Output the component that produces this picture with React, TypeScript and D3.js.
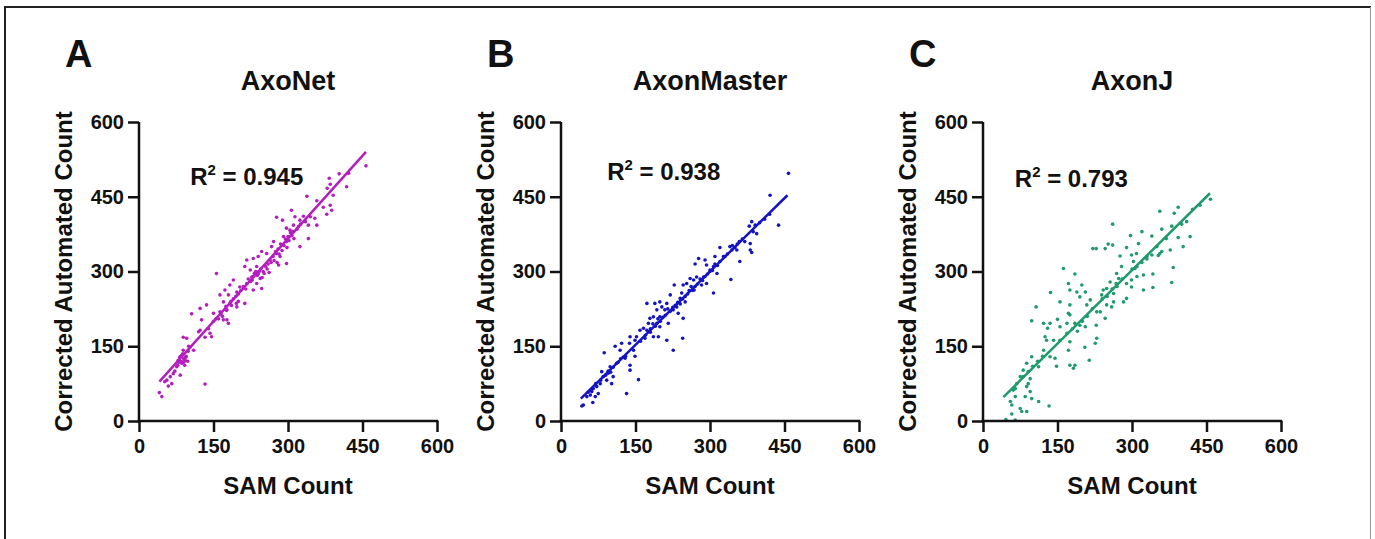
import React, { useEffect, useRef } from "react";
import * as d3 from "d3";

// ---------- data ----------
const panelLetters = ["A", "B", "C"];
const panelTitles = ["AxoNet", "AxonMaster", "AxonJ"];
const r2Values = ["0.945", "0.938", "0.793"];
const r2Anchor: [number, number][] = [[103, 474], [93, 484], [64, 470]];
const axisTicks = [0, 150, 300, 450, 600];
const xLabel = "SAM Count";
const yLabel = "Corrected Automated Count";

const axoNetPoints: [number, number][] = [
  [457, 512], [422, 497], [403, 496], [418, 470], [383, 487], [385, 475], [379, 467], [391, 453],
  [338, 451], [358, 442], [371, 429], [385, 433], [388, 423], [378, 415], [354, 407], [358, 393],
  [341, 393], [341, 366], [324, 350], [307, 423], [314, 410], [324, 403], [331, 411], [321, 390],
  [311, 393], [304, 383], [297, 387], [291, 370], [277, 409], [289, 403], [297, 360], [297, 316],
  [281, 313], [271, 360], [267, 350], [264, 323], [277, 336], [284, 330], [257, 336], [247, 340],
  [240, 330], [237, 310], [230, 326], [217, 323], [213, 310], [224, 303], [227, 289], [244, 286],
  [247, 266], [237, 276], [230, 263], [217, 276], [203, 269], [197, 259], [190, 283], [183, 273],
  [173, 263], [180, 253], [163, 253], [156, 296], [170, 239], [183, 236], [197, 229], [213, 236],
  [177, 223], [163, 219], [150, 216], [177, 203], [180, 196], [170, 203], [136, 233], [123, 226],
  [106, 215], [126, 203], [123, 182], [120, 179], [143, 176], [146, 169], [133, 168], [96, 166],
  [89, 168], [103, 149], [110, 142], [89, 142], [83, 129], [93, 122], [86, 116], [79, 122],
  [76, 109], [69, 95], [83, 92], [63, 89], [56, 82], [66, 75], [59, 70], [52, 79], [41, 57],
  [46, 49], [133, 74],
  [82, 128], [88, 135], [95, 130], [99, 140], [85, 120], [90, 118], [78, 112], [72, 100], [92, 112],
  [100, 150], [190, 245], [200, 255], [205, 262], [210, 270], [215, 265], [220, 285], [225, 280],
  [230, 290], [235, 300], [240, 295], [245, 305], [250, 300], [255, 310], [260, 315], [200, 240],
  [195, 250], [185, 240], [175, 230], [165, 215], [155, 205], [150, 200], [140, 185], [270, 330],
  [275, 340], [280, 345], [285, 355], [295, 365], [300, 370], [305, 378], [310, 380], [318, 385],
  [325, 395], [335, 400], [345, 410],
  [228, 283], [232, 296], [238, 292], [242, 300], [248, 288], [252, 296], [258, 305], [262, 298],
  [266, 318], [272, 322], [278, 318], [282, 335], [288, 342], [292, 352], [298, 348], [302, 362],
  [308, 372], [312, 366], [160, 205], [168, 210], [176, 222], [186, 232], [196, 236],
  [90, 125], [94, 128], [86, 132], [80, 118], [98, 120],
];

const axonMasterPoints: [number, number][] = [
  [458, 497], [421, 453], [438, 393], [384, 400], [391, 393], [379, 391], [387, 380], [394, 376],
  [381, 356], [381, 343], [384, 338], [359, 360], [360, 320], [340, 350], [344, 343], [354, 343],
  [320, 348], [327, 330], [342, 284], [310, 330], [307, 310], [314, 296], [307, 257], [300, 303],
  [293, 313], [290, 323], [277, 326], [270, 315], [273, 289], [267, 283], [287, 289], [293, 276],
  [283, 273], [268, 263], [260, 286], [253, 276], [246, 273], [243, 257], [240, 246], [250, 239],
  [246, 206], [245, 166], [233, 229], [236, 216], [226, 223], [228, 273], [220, 253], [213, 236],
  [216, 196], [209, 223], [199, 239], [203, 229], [199, 209], [193, 223], [193, 196], [189, 236],
  [186, 209], [179, 206], [176, 196], [173, 236], [173, 182], [169, 166], [186, 169], [196, 169],
  [213, 162], [226, 142], [199, 189], [166, 186], [159, 182], [152, 169], [149, 162], [139, 169],
  [138, 156], [146, 142], [149, 130], [139, 112], [139, 102], [156, 83], [122, 156], [109, 150],
  [87, 137], [119, 142], [129, 126], [112, 116], [99, 109], [95, 96], [105, 89], [102, 75],
  [92, 82], [82, 99], [85, 89], [79, 75], [72, 69], [65, 65], [62, 59], [75, 55], [69, 49],
  [59, 52], [52, 49], [64, 37], [45, 32], [42, 30], [132, 55],
  [160, 160], [170, 172], [180, 178], [190, 190], [200, 200], [210, 212], [220, 220], [230, 232],
  [245, 245], [255, 255], [265, 262], [275, 275], [285, 282], [295, 295], [305, 302], [315, 312],
  [330, 330], [350, 348], [365, 365], [400, 398], [410, 405], [420, 415], [95, 100], [105, 108],
  [115, 118], [70, 75], [80, 82], [60, 62], [55, 58], [130, 130],
  [180, 185], [185, 195], [195, 205], [205, 208], [215, 225], [225, 228], [235, 238], [240, 235],
  [250, 250], [258, 262], [262, 270], [270, 270], [280, 285], [290, 290], [300, 300], [310, 315],
  [320, 320], [335, 335], [345, 352], [355, 355], [370, 360], [120, 125], [125, 128], [90, 92],
  [100, 98],
];

const axonJPoints: [number, number][] = [
  [458, 445], [437, 433], [422, 425], [393, 429], [385, 417], [356, 421], [380, 391], [360, 385],
  [340, 371], [320, 380], [297, 372], [261, 395], [252, 355], [261, 353], [228, 346], [221, 346],
  [246, 346], [417, 370], [393, 368], [403, 350], [377, 343], [369, 366], [356, 336], [353, 332],
  [340, 333], [330, 330], [313, 356], [309, 336], [299, 333], [289, 348], [276, 331], [269, 296],
  [279, 310], [303, 320], [306, 306], [310, 290], [323, 293], [342, 295], [383, 308], [380, 278],
  [299, 283], [299, 269], [323, 263], [342, 268], [289, 276], [273, 286], [268, 276], [256, 279],
  [249, 266], [242, 263], [239, 253], [263, 256], [263, 239], [259, 229], [283, 239], [289, 246],
  [249, 233], [236, 219], [246, 206], [229, 219], [228, 192], [209, 233], [216, 243], [206, 259],
  [199, 273], [185, 295], [172, 276], [162, 306], [175, 263], [189, 259], [195, 249], [175, 233],
  [172, 216], [185, 196], [195, 192], [206, 189], [229, 166], [226, 156], [205, 148], [214, 122],
  [175, 213], [169, 196], [155, 189], [169, 176], [155, 162], [175, 159], [172, 142], [175, 112],
  [185, 112], [182, 106], [155, 239], [136, 258], [150, 204], [135, 196], [122, 196], [130, 186],
  [125, 169], [128, 162], [122, 142], [142, 162], [135, 129], [145, 126], [148, 110], [107, 229],
  [98, 201], [112, 109], [98, 129], [88, 116], [91, 99], [81, 102], [81, 89], [91, 75], [88, 69],
  [95, 59], [85, 49], [98, 45], [112, 39], [133, 30], [68, 75], [65, 65], [65, 49], [55, 39],
  [58, 32], [75, 25], [78, 19], [88, 19], [58, 14], [46, 3], [65, 2], [75, 89], [61, 62],
  [300, 305], [310, 310], [320, 318], [330, 325], [260, 265], [270, 270], [280, 285], [200, 200],
  [210, 210], [220, 225], [180, 185], [190, 180], [240, 245], [250, 250], [100, 110], [110, 120],
  [120, 130], [95, 85], [350, 350], [360, 340], [400, 395], [410, 400],
];

const axoNetFit: [number, number][] = [[41, 79], [457, 540]];
const axonMasterFit: [number, number][] = [[40, 45], [456, 453]];
const axonJFit: [number, number][] = [[41, 48], [457, 457]];

const seriesPoints = [axoNetPoints, axonMasterPoints, axonJPoints];
const seriesFits = [axoNetFit, axonMasterFit, axonJFit];
const seriesColors = ["#B41DBE", "#1414C2", "#1E9A6C"];

// ---------- layout ----------
const W = 1375;
const H = 539;
const panelLeft = [139, 561, 983];
const plotTop = 122;
const plotW = 298;
const plotH = 299;
const FONT = "'Liberation Sans', Arial, Helvetica, sans-serif";

export default function App() {
  const ref = useRef<SVGSVGElement | null>(null);

  useEffect(() => {
    const svg = d3.select(ref.current);
    svg.selectAll("*").remove();

    // outer frame
    svg.append("line").attr("x1", 5).attr("x2", 1371).attr("y1", 7).attr("y2", 7)
      .attr("stroke", "#222").attr("stroke-width", 2);
    svg.append("line").attr("x1", 5).attr("x2", 5).attr("y1", 6).attr("y2", H)
      .attr("stroke", "#222").attr("stroke-width", 2);
    svg.append("line").attr("x1", 1370.5).attr("x2", 1370.5).attr("y1", 7).attr("y2", H)
      .attr("stroke", "#9a9a9a").attr("stroke-width", 1);

    panelLeft.forEach((left, i) => {
      const g = svg.append("g").attr("transform", `translate(${left},${plotTop})`);
      const x = d3.scaleLinear().domain([0, 600]).range([0, plotW]);
      const y = d3.scaleLinear().domain([0, 600]).range([plotH, 0]);

      // points
      g.append("g").selectAll("circle").data(seriesPoints[i]).join("circle")
        .attr("cx", (d) => x(d[0])).attr("cy", (d) => y(d[1])).attr("r", 1.8)
        .attr("fill", seriesColors[i]);

      // fit line
      const line = d3.line<[number, number]>().x((d) => x(d[0])).y((d) => y(d[1]));
      g.append("path").attr("d", line(seriesFits[i]) as string).attr("fill", "none")
        .attr("stroke", seriesColors[i]).attr("stroke-width", 2.5);

      // axes
      const xa = g.append("g").attr("transform", `translate(0,${plotH})`)
        .call(d3.axisBottom(x).tickValues(axisTicks).tickSize(11).tickSizeOuter(0).tickPadding(7));
      const ya = g.append("g")
        .call(d3.axisLeft(y).tickValues(axisTicks).tickSize(11).tickSizeOuter(0).tickPadding(4));
      [xa, ya].forEach((a) => {
        a.selectAll("path,line").attr("stroke", "#111").attr("stroke-width", 2.5);
        a.selectAll("text").attr("font-family", FONT).attr("font-weight", "bold")
          .attr("font-size", 20).attr("fill", "#111");
      });
      ya.select("path").attr("d", `M0,${plotH + 1.25}V0`);
      xa.select("path").attr("d", `M-1.25,0H${plotW + 1.25}`);

      // axis labels
      g.append("text").attr("x", plotW / 2).attr("y", 372).attr("text-anchor", "middle")
        .attr("font-family", FONT).attr("font-weight", "bold").attr("font-size", 24)
        .attr("fill", "#111").text(xLabel);
      g.append("text").attr("transform", `translate(-67,${plotH / 2}) rotate(-90)`)
        .attr("text-anchor", "middle").attr("font-family", FONT).attr("font-weight", "bold")
        .attr("font-size", 24).attr("fill", "#111").text(yLabel);

      // title & letter
      g.append("text").attr("x", plotW / 2).attr("y", -32).attr("text-anchor", "middle")
        .attr("font-family", FONT).attr("font-weight", "bold").attr("font-size", 27)
        .attr("fill", "#111").text(panelTitles[i]);
      g.append("text").attr("x", -74).attr("y", -55)
        .attr("font-family", FONT).attr("font-weight", "bold").attr("font-size", 38)
        .attr("fill", "#111").text(panelLetters[i]);

      // R^2 annotation
      const t = g.append("text").attr("x", x(r2Anchor[i][0])).attr("y", y(r2Anchor[i][1]))
        .attr("font-family", FONT).attr("font-weight", "bold").attr("font-size", 24).attr("fill", "#111");
      t.append("tspan").text("R");
      t.append("tspan").attr("dy", -10).attr("font-size", 15).text("2");
      t.append("tspan").attr("dy", 10).text(` = ${r2Values[i]}`);
    });
  }, []);

  return (
    <div style={{ position: "absolute", left: 0, top: 0, width: W, height: H, background: "#fff" }}>
      <svg ref={ref} width={W} height={H} style={{ display: "block" }} />
    </div>
  );
}
